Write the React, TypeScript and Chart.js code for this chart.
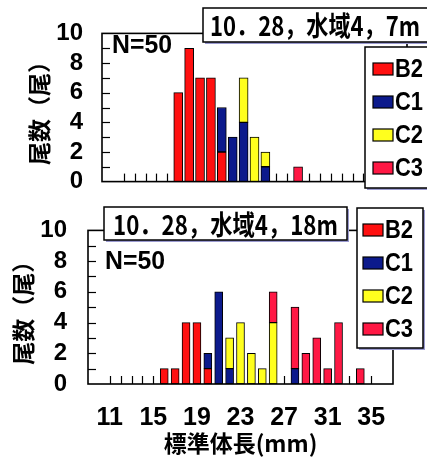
import React, { useEffect, useRef } from "react";
import { Chart, registerables } from "chart.js";
Chart.register(...registerables);

// body length bins (mm)
const lengths = [11, 12, 13, 14, 15, 16, 17, 18, 19, 20, 21, 22, 23, 24, 25, 26, 27, 28, 29, 30, 31, 32, 33, 34, 35];
const xTickLabels = [11, 15, 19, 23, 27, 31, 35];
const yTickLabels = [0, 2, 4, 6, 8, 10];
const seriesNames = ["B2", "C1", "C2", "C3"];
const seriesColors = ["#ff1010", "#0c1a8c", "#ffff1e", "#ff1844"];

// 10.28, 水域4, 7m
const b2_7m = [0, 0, 0, 0, 0, 6, 9, 7, 7, 2, 0, 0, 0, 0, 0, 0, 0, 0, 0, 0, 0, 0, 0, 0, 0];
const c1_7m = [0, 0, 0, 0, 0, 0, 0, 0, 0, 3, 3, 4, 0, 1, 0, 0, 0, 0, 0, 0, 0, 0, 0, 0, 0];
const c2_7m = [0, 0, 0, 0, 0, 0, 0, 0, 0, 0, 0, 3, 3, 1, 0, 0, 0, 0, 0, 0, 0, 0, 0, 0, 0];
const c3_7m = [0, 0, 0, 0, 0, 0, 0, 0, 0, 0, 0, 0, 0, 0, 0, 0, 1, 0, 0, 0, 0, 0, 0, 0, 0];

// 10.28, 水域4, 18m
const b2_18m = [0, 0, 0, 0, 0, 1, 1, 4, 4, 1, 0, 0, 0, 0, 0, 0, 0, 0, 0, 0, 0, 0, 0, 0, 0];
const c1_18m = [0, 0, 0, 0, 0, 0, 0, 0, 0, 1, 6, 1, 0, 0, 0, 0, 0, 1, 0, 0, 0, 0, 0, 0, 0];
const c2_18m = [0, 0, 0, 0, 0, 0, 0, 0, 0, 0, 0, 2, 4, 2, 1, 4, 0, 0, 0, 0, 0, 0, 0, 0, 0];
const c3_18m = [0, 0, 0, 0, 0, 0, 0, 0, 0, 0, 0, 0, 0, 0, 0, 2, 0, 4, 2, 3, 1, 4, 0, 1, 0];

const title7m = "10．28，水域4，7m";
const title18m = "10．28，水域4，18m";
const nLabel = "N=50";
const yTitle = "尾数（尾）";
const xTitle = "標準体長(mm)";

const LAT = "'Liberation Sans', Arial, sans-serif";
const CJK = "'Noto Sans CJK JP', 'Noto Sans CJK SC', sans-serif";

type Panel = {
  series: number[][];
  canvasH: number;
  yW: number;
  xH: number;
  padTop: number;
  padRight: number;
  showX: boolean;
  yTitlePad: number;
  yTickPad: number;
  barThickness: number;
  title: string;
  titleBox: [number, number, number, number];
  titleTextX: number;
  titleTextW: number;
  legendBox: [number, number, number, number];
  swatchDx: number;
  nPos: [number, number];
};

function fitText(ctx: CanvasRenderingContext2D, text: string, x: number, cy: number, w: number) {
  const m = ctx.measureText(text).width;
  const sx = w / m;
  ctx.save();
  ctx.translate(x, cy);
  ctx.scale(sx, 1);
  ctx.fillText(text, 0, 0);
  ctx.restore();
}

function decor(p: Panel) {
  return {
    id: "decor",
    beforeDatasetsDraw(chart: any) {
      const { ctx, chartArea: a, scales } = chart;
      const x = scales.x, y = scales.y;
      ctx.save();
      ctx.strokeStyle = "#000";
      ctx.lineWidth = 1.2;
      for (let v = 1; v < 10; v++) {
        const py = Math.round(y.getPixelForValue(v)) + 0.5;
        ctx.beginPath();
        ctx.moveTo(a.left, py);
        ctx.lineTo(a.left + 8, py);
        ctx.stroke();
      }
      for (const l of lengths) {
        const px = Math.round(x.getPixelForValue(l)) + 0.5;
        ctx.beginPath();
        ctx.moveTo(px, a.bottom);
        ctx.lineTo(px, a.bottom - 8);
        ctx.stroke();
      }
      ctx.restore();
    },
    afterDatasetsDraw(chart: any) {
      const { ctx, chartArea: a } = chart;
      ctx.save();
      ctx.strokeStyle = "#000";
      ctx.lineWidth = 1.6;
      ctx.strokeRect(a.left, a.top, a.right - a.left, a.bottom - a.top);
      ctx.restore();
    },
    afterDraw(chart: any) {
      const { ctx } = chart;
      ctx.save();
      // N label
      ctx.fillStyle = "#000";
      ctx.font = `bold 26px ${LAT}`;
      ctx.textBaseline = "middle";
      ctx.textAlign = "left";
      fitText(ctx, nLabel, p.nPos[0], p.nPos[1], 60);
      // title box
      const [tx, ty, tw, th] = p.titleBox;
      ctx.fillStyle = "#9a9ad0";
      ctx.fillRect(tx + 2, ty + 2, tw, th);
      ctx.fillStyle = "#fff";
      ctx.fillRect(tx, ty, tw, th);
      ctx.strokeStyle = "#000";
      ctx.lineWidth = 1.5;
      ctx.strokeRect(tx, ty, tw, th);
      ctx.fillStyle = "#000";
      ctx.font = `bold 27px ${CJK}`;
      fitText(ctx, p.title, p.titleTextX, ty + th / 2 + 1, p.titleTextW);
      // legend box
      const [lx, ly, lw, lh] = p.legendBox;
      ctx.fillStyle = "#9a9ad0";
      ctx.fillRect(lx + 2, ly + 2, lw, lh);
      ctx.fillStyle = "#fff";
      ctx.fillRect(lx, ly, lw, lh);
      ctx.strokeStyle = "#000";
      ctx.lineWidth = 1.5;
      ctx.strokeRect(lx, ly, lw, lh);
      const ds = chart.data.datasets;
      ds.forEach((d: any, i: number) => {
        const cy = ly + 22 + i * 33;
        const sx = lx + p.swatchDx;
        ctx.fillStyle = d.backgroundColor;
        ctx.fillRect(sx, cy - 6, 20, 12);
        ctx.strokeStyle = "#000";
        ctx.lineWidth = 1.2;
        ctx.strokeRect(sx, cy - 6, 20, 12);
        ctx.fillStyle = "#000";
        ctx.font = `bold 25px ${LAT}`;
        fitText(ctx, d.label, sx + 22, cy + 1, 28);
      });
      ctx.restore();
    },
  };
}

function buildConfig(p: Panel): any {
  const datasets = p.series.map((arr, i) => ({
    label: seriesNames[i],
    data: lengths.map((l, j) => ({ x: l, y: arr[j] })).filter((d) => d.y > 0),
    backgroundColor: seriesColors[i],
    borderColor: "#000",
    borderWidth: 1,
    borderSkipped: false,
    barThickness: p.barThickness,
  }));
  return {
    type: "bar",
    data: { datasets },
    plugins: [decor(p)],
    options: {
      responsive: false,
      animation: false,
      layout: { padding: { top: p.padTop, right: p.padRight, left: 0, bottom: 0 } },
      plugins: { legend: { display: false }, tooltip: { enabled: false }, title: { display: false } },
      scales: {
        x: {
          type: "linear",
          min: 9,
          max: 37,
          offset: false,
          stacked: true,
          grid: { display: false, drawTicks: false, offset: false },
          border: { display: false },
          afterBuildTicks: (s: any) => {
            s.ticks = xTickLabels.map((v) => ({ value: v }));
          },
          ticks: {
            display: p.showX,
            autoSkip: false,
            maxRotation: 0,
            padding: 19,
            color: "#000",
            font: { family: LAT, size: 25, weight: "bold" },
          },
          title: {
            display: p.showX,
            text: xTitle,
            color: "#000",
            font: { family: CJK, size: 23, weight: "bold" },
            padding: { top: 0, bottom: 0 },
          },
          afterFit: (s: any) => {
            s.height = p.xH;
          },
        },
        y: {
          min: 0,
          max: 10,
          stacked: true,
          grid: { display: false, drawTicks: false },
          border: { display: false },
          afterBuildTicks: (s: any) => {
            s.ticks = yTickLabels.map((v) => ({ value: v }));
          },
          ticks: {
            autoSkip: false,
            padding: p.yTickPad,
            color: "#000",
            font: { family: LAT, size: 24, weight: "bold" },
          },
          title: {
            display: true,
            text: yTitle,
            color: "#000",
            font: { family: CJK, size: 23, weight: "bold" },
            padding: { top: p.yTitlePad, bottom: 0 },
          },
          afterFit: (s: any) => {
            s.width = p.yW;
          },
        },
      },
    },
  };
}

const topPanel: Panel = {
  series: [b2_7m, c1_7m, c2_7m, c3_7m],
  canvasH: 215,
  yW: 102,
  xH: 32,
  padTop: 25,
  padRight: 20,
  showX: false,
  yTitlePad: 25,
  yTickPad: 19,
  barThickness: 9,
  title: title7m,
  titleBox: [203, 8, 240, 34],
  titleTextX: 210,
  titleTextW: 210,
  legendBox: [365, 47, 70, 141],
  swatchDx: 8,
  nPos: [112, 46],
};

const bottomPanel: Panel = {
  series: [b2_18m, c1_18m, c2_18m, c3_18m],
  canvasH: 262,
  yW: 88,
  xH: 73,
  padTop: 35,
  padRight: 34,
  showX: true,
  yTitlePad: 9,
  yTickPad: 21,
  barThickness: 8,
  title: title18m,
  titleBox: [104, 12, 243, 33],
  titleTextX: 113,
  titleTextW: 225,
  legendBox: [357, 13, 66, 140],
  swatchDx: 6,
  nPos: [105, 67],
};

export default function App() {
  const topRef = useRef<HTMLCanvasElement>(null);
  const botRef = useRef<HTMLCanvasElement>(null);
  useEffect(() => {
    const c1 = new Chart(topRef.current as HTMLCanvasElement, buildConfig(topPanel));
    const c2 = new Chart(botRef.current as HTMLCanvasElement, buildConfig(bottomPanel));
    return () => {
      c1.destroy();
      c2.destroy();
    };
  }, []);
  return (
    <div style={{ position: "absolute", left: 0, top: 0, width: 427, height: 457, background: "#fff", overflow: "hidden" }}>
      <canvas ref={topRef} width={427} height={topPanel.canvasH} style={{ position: "absolute", left: 0, top: 0, width: 427, height: topPanel.canvasH }} />
      <canvas ref={botRef} width={427} height={bottomPanel.canvasH} style={{ position: "absolute", left: 0, top: 195, width: 427, height: bottomPanel.canvasH }} />
    </div>
  );
}
